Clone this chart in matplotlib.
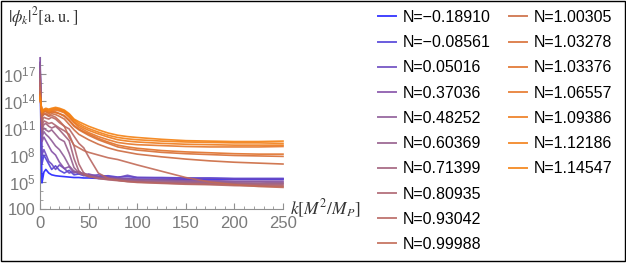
import numpy as np
import matplotlib
matplotlib.use('Agg')
import matplotlib.pyplot as plt
from matplotlib.lines import Line2D
from matplotlib.patches import Rectangle

plt.rcParams['font.family'] = ['Liberation Sans', 'DejaVu Sans']
plt.rcParams['mathtext.fontset'] = 'custom'
plt.rcParams['mathtext.rm'] = 'Liberation Sans'
plt.rcParams['mathtext.it'] = 'Liberation Sans:italic'

# N values of the runs (legend)
N_vals = [-0.18910, -0.08561, 0.05016, 0.37036, 0.48252, 0.60369, 0.71399,
          0.80935, 0.93042, 0.99988, 1.00305, 1.03278, 1.03376, 1.06557,
          1.09386, 1.12186, 1.14547]

# k grid, log10 |phi_k|^2
k = [0, 2, 4, 6, 9, 12, 16, 20, 25, 30, 35, 40, 45, 50, 60, 70, 80, 90, 100,
     125, 150, 175, 200, 225, 250]

c0 = [17.2, 4.9, 6.1, 6.4, 6.0, 5.8, 5.7, 5.65, 5.6, 5.55, 5.5, 5.5, 5.45, 5.45, 5.4, 5.4, 5.35, 5.35, 5.3, 5.3, 5.3, 5.3, 5.3, 5.3, 5.3]
c1 = [18.0, 7.0, 8.0, 7.6, 7.0, 6.4, 6.8, 6.3, 6.0, 6.3, 5.8, 5.9, 5.7, 5.8, 5.6, 5.7, 5.55, 5.6, 5.5, 5.5, 5.45, 5.45, 5.4, 5.4, 5.4]
c2 = [18.3, 8.0, 8.6, 8.1, 7.3, 7.0, 6.4, 6.9, 6.5, 6.0, 6.2, 5.9, 6.0, 5.7, 5.8, 5.6, 5.5, 5.75, 5.5, 5.45, 5.4, 5.4, 5.35, 5.35, 5.35]
c3 = [18.8, 9.5, 10.0, 9.6, 9.0, 8.4, 8.0, 7.2, 6.5, 6.7, 6.0, 6.2, 5.8, 5.9, 5.6, 5.5, 5.4, 5.4, 5.3, 5.25, 5.2, 5.15, 5.1, 5.1, 5.1]
c4 = [18.2, 10.0, 10.6, 10.3, 10.0, 9.6, 9.0, 8.6, 7.8, 6.8, 6.2, 6.0, 5.8, 5.7, 5.5, 5.4, 5.35, 5.3, 5.25, 5.2, 5.1, 5.05, 5.0, 5.0, 4.95]
c5 = [17.6, 10.5, 11.0, 10.8, 10.6, 10.8, 10.3, 9.8, 9.5, 8.2, 6.6, 6.0, 5.8, 5.6, 5.45, 5.35, 5.3, 5.2, 5.15, 5.05, 5.0, 4.95, 4.9, 4.85, 4.85]
c6 = [17.0, 10.8, 11.4, 11.5, 11.2, 11.0, 11.2, 10.8, 10.2, 9.6, 7.6, 6.2, 5.8, 5.6, 5.4, 5.3, 5.2, 5.1, 5.05, 4.95, 4.9, 4.85, 4.8, 4.75, 4.75]
c7 = [16.5, 11.2, 11.8, 11.7, 11.5, 11.6, 11.3, 11.0, 10.7, 10.3, 9.0, 7.0, 6.0, 5.7, 5.4, 5.25, 5.15, 5.05, 5.0, 4.9, 4.8, 4.75, 4.7, 4.65, 4.6]
c8 = [16.0, 11.8, 12.2, 12.1, 12.0, 12.2, 12.0, 11.6, 11.2, 10.9, 10.1, 9.3, 8.8, 7.8, 6.0, 5.4, 5.2, 5.05, 4.95, 4.85, 4.75, 4.7, 4.6, 4.55, 4.5]
c9 = [15.5, 12.3, 12.6, 12.5, 12.3, 12.4, 12.2, 11.8, 11.2, 10.0, 9.1, 8.8, 8.5, 8.3, 8.0, 7.7, 7.5, 7.2, 6.9, 6.2, 5.5, 5.0, 4.7, 4.5, 4.4]
c10 = [15.0, 12.3, 12.5, 12.6, 12.4, 12.6, 12.5, 12.3, 12.0, 11.4, 10.8, 10.3, 10.0, 9.7, 9.2, 8.8, 8.5, 8.3, 8.1, 7.8, 7.55, 7.35, 7.2, 7.1, 7.0]
c11 = [14.8, 12.5, 12.8, 12.8, 12.6, 12.8, 12.7, 12.6, 12.3, 11.8, 11.2, 10.8, 10.5, 10.2, 9.7, 9.3, 8.9, 8.7, 8.55, 8.3, 8.15, 8.05, 7.95, 7.9, 7.85]
c12 = [14.7, 12.6, 12.8, 12.9, 12.7, 12.8, 12.8, 12.6, 12.4, 11.9, 11.3, 10.9, 10.6, 10.35, 9.85, 9.45, 9.1, 8.9, 8.75, 8.5, 8.35, 8.25, 8.15, 8.1, 8.1]
c13 = [14.6, 12.7, 12.9, 13.0, 12.8, 12.9, 13.0, 12.9, 12.7, 12.2, 11.6, 11.1, 10.8, 10.5, 10.05, 9.7, 9.4, 9.25, 9.15, 9.05, 8.95, 8.9, 8.9, 8.9, 8.95]
c14 = [14.5, 12.8, 13.0, 13.0, 12.9, 13.0, 13.1, 13.0, 12.8, 12.3, 11.7, 11.3, 11.0, 10.75, 10.35, 10.0, 9.7, 9.55, 9.45, 9.3, 9.2, 9.15, 9.1, 9.1, 9.1]
c15 = [14.4, 12.8, 13.0, 13.1, 13.0, 13.1, 13.2, 13.1, 12.9, 12.5, 11.9, 11.5, 11.2, 10.95, 10.55, 10.2, 9.95, 9.8, 9.7, 9.55, 9.45, 9.4, 9.35, 9.35, 9.3]
c16 = [14.3, 12.9, 13.1, 13.2, 13.1, 13.2, 13.3, 13.2, 13.0, 12.6, 12.0, 11.7, 11.45, 11.2, 10.8, 10.45, 10.2, 10.05, 9.95, 9.75, 9.6, 9.55, 9.5, 9.5, 9.55]

curves = [c0, c1, c2, c3, c4, c5, c6, c7, c8, c9, c10, c11, c12, c13, c14, c15, c16]

y_tick_pos = [2, 5, 8, 11, 14, 17]
y_tick_lab = ['100', '$10^{5}$', '$10^{8}$', '$10^{11}$', '$10^{14}$', '$10^{17}$']
x_ticks = [0, 50, 100, 150, 200, 250]

# blue -> purple -> orange, one colour per run
colors = ['#2222ff', '#5040d8', '#6a48c0', '#8450a8', '#8e5c98', '#965e8c',
          '#a2607c', '#ae6470', '#b86662', '#c26a56', '#cc6a40', '#d86e34',
          '#e07028', '#e67628', '#ee7a1a', '#f27e16', '#f48010']

fig = plt.figure(figsize=(6.26, 2.63), dpi=100)
ax = fig.add_axes([40 / 626, 1 - 209 / 263, 243 / 626, 152 / 263])

handles = []
labels = []
for n, c, col in zip(N_vals, curves, colors):
    ax.plot(k, 10.0 ** np.array(c), color=col, lw=1.2, alpha=0.9,
            solid_joinstyle='round', zorder=3, clip_on=False)
    handles.append(Line2D([], [], color=col, lw=1.4, alpha=0.85))
    labels.append(('N=%.5f' % n).replace('-', '\u2212'))

ax.set_yscale('log')
ax.set_xlim(0, 250)
ax.set_ylim(1e2, 10 ** 18.9)

gray = '#7a7a7a'
for s in ['top', 'right']:
    ax.spines[s].set_visible(False)
for s in ['left', 'bottom']:
    ax.spines[s].set_color('#909090')
    ax.spines[s].set_linewidth(0.8)

ax.set_xticks(x_ticks)
ax.set_xticks(np.arange(0, 251, 10), minor=True)
ax.set_yticks([10.0 ** p for p in y_tick_pos])
ax.set_yticklabels(y_tick_lab)
ax.set_yticks([10.0 ** p for p in range(3, 19) if p not in y_tick_pos], minor=True)
ax.yaxis.set_minor_formatter(plt.NullFormatter())
ax.tick_params(which='both', direction='in', colors='#909090', labelcolor=gray, labelsize=12)
ax.tick_params(which='major', length=4, width=0.8)
ax.tick_params(which='minor', length=2, width=0.6)
ax.tick_params(axis='x', pad=5)
ax.tick_params(axis='y', pad=3)

ax.text(-0.13, 1.26, r'$|\phi_k|^2[\mathrm{a.u.}]$', transform=ax.transAxes,
        ha='left', va='center', fontsize=12, color='#333333', math_fontfamily='stix')
ax.text(1.03, 0.0, r'$k[M^2/M_P]$', transform=ax.transAxes,
        ha='left', va='center', fontsize=12.5, color='#333333', math_fontfamily='stix')

leg_kw = dict(loc='upper left', frameon=False, fontsize=11.5, handlelength=1.15,
              handletextpad=0.4, labelspacing=0.64, borderpad=0, borderaxespad=0)
leg1 = fig.legend(handles[:10], labels[:10], bbox_to_anchor=(378 / 626, 1 - 10 / 263), **leg_kw)
leg2 = fig.legend(handles[10:], labels[10:], bbox_to_anchor=(509 / 626, 1 - 10 / 263), **leg_kw)

fig.patches.append(Rectangle((0.5 / 626, 2.5 / 263), 624.5 / 626, 259.5 / 263,
                             transform=fig.transFigure, fill=False, lw=1, ec='black'))

fig.savefig('out.png', dpi=100)
